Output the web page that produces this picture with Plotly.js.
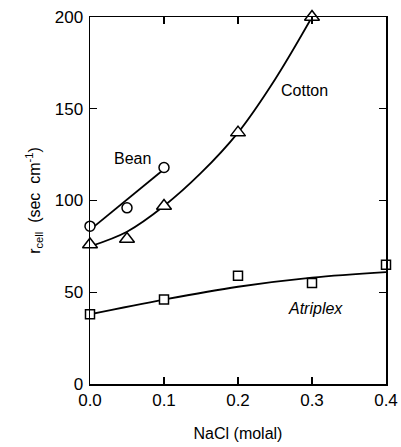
<!DOCTYPE html>
<html><head><meta charset="utf-8">
<script src="https://cdn.plot.ly/plotly-3.0.1.min.js"></script>
<style>html,body{margin:0;padding:0;background:#fff}#chart{width:401px;height:447px}</style>
</head><body><div id="chart"></div>
<script>
// Measured points
const beanX = [0.0, 0.05, 0.1];
const beanY = [86, 96, 118];
const cottonX = [0.0, 0.05, 0.1, 0.2, 0.3];
const cottonY = [76, 79, 97, 137, 200];
const atriplexX = [0.0, 0.1, 0.2, 0.3, 0.4];
const atriplexY = [38, 46, 59, 55, 65];
// Fitted curves
const beanFitX = [0.0, 0.1];
const beanFitY = [84, 117];
const cottonFitX = [0.0, 0.05, 0.1, 0.15, 0.2, 0.25, 0.3];
const cottonFitY = [75, 83, 97, 115, 137, 166, 200];
const atriplexFitX = [0.0, 0.1, 0.2, 0.3, 0.4];
const atriplexFitY = [38, 46, 53, 58, 61];
const xTicks = [0.0, 0.1, 0.2, 0.3, 0.4];
const xTickText = ['0.0', '0.1', '0.2', '0.3', '0.4'];
const yTicks = [0, 50, 100, 150, 200];

const lineStyle = {color: '#000', width: 1.8, shape: 'spline'};
function fit(x, y) { return {x: x, y: y, mode: 'lines', line: lineStyle, hoverinfo: 'skip', showlegend: false, cliponaxis: false}; }
function pts(x, y, sym, size) {
  return {x: x, y: y, mode: 'markers', showlegend: false, cliponaxis: false,
    marker: {symbol: sym, size: size, color: '#fff', line: {color: '#000', width: 1.5}}};
}
const data = [
  fit(beanFitX, beanFitY), fit(cottonFitX, cottonFitY), fit(atriplexFitX, atriplexFitY),
  pts(beanX, beanY, 'circle', 10),
  pts(cottonX, cottonY, 'triangle-up', 13),
  pts(atriplexX, atriplexY, 'square', 9)
];
const font = {family: '"Liberation Sans", Arial, sans-serif', color: '#000'};
const axisCommon = {showgrid: false, zeroline: false, showline: true, linecolor: '#000', linewidth: 1.5,
  mirror: 'ticks', ticks: 'inside', ticklen: 7, tickwidth: 1.2, tickcolor: '#000',
  tickfont: Object.assign({size: 17}, font)};
const layout = {
  width: 401, height: 447,
  margin: {l: 90, r: 15, t: 17, b: 63},
  paper_bgcolor: '#fff', plot_bgcolor: '#fff',
  font: font,
  xaxis: Object.assign({}, axisCommon, {range: [0, 0.4], tickvals: xTicks, ticktext: xTickText,
    title: {text: 'NaCl (molal)', font: Object.assign({size: 16}, font), standoff: 19}}),
  yaxis: Object.assign({}, axisCommon, {range: [0, 200], tickvals: yTicks, ticklabelstandoff: 2,
    title: {text: 'r<sub>cell</sub>  (sec  cm<sup>-1</sup>)', font: Object.assign({size: 16}, font), standoff: 10}}),
  annotations: [
    {x: 0.058, y: 123, text: 'Bean', showarrow: false, font: Object.assign({size: 16}, font)},
    {x: 0.29, y: 160, text: 'Cotton', showarrow: false, font: Object.assign({size: 16}, font)},
    {x: 0.305, y: 41, text: '<i>Atriplex</i>', showarrow: false, font: Object.assign({size: 16}, font)}
  ]
};
Plotly.newPlot('chart', data, layout, {displayModeBar: false, staticPlot: true});
</script>
</body></html>
